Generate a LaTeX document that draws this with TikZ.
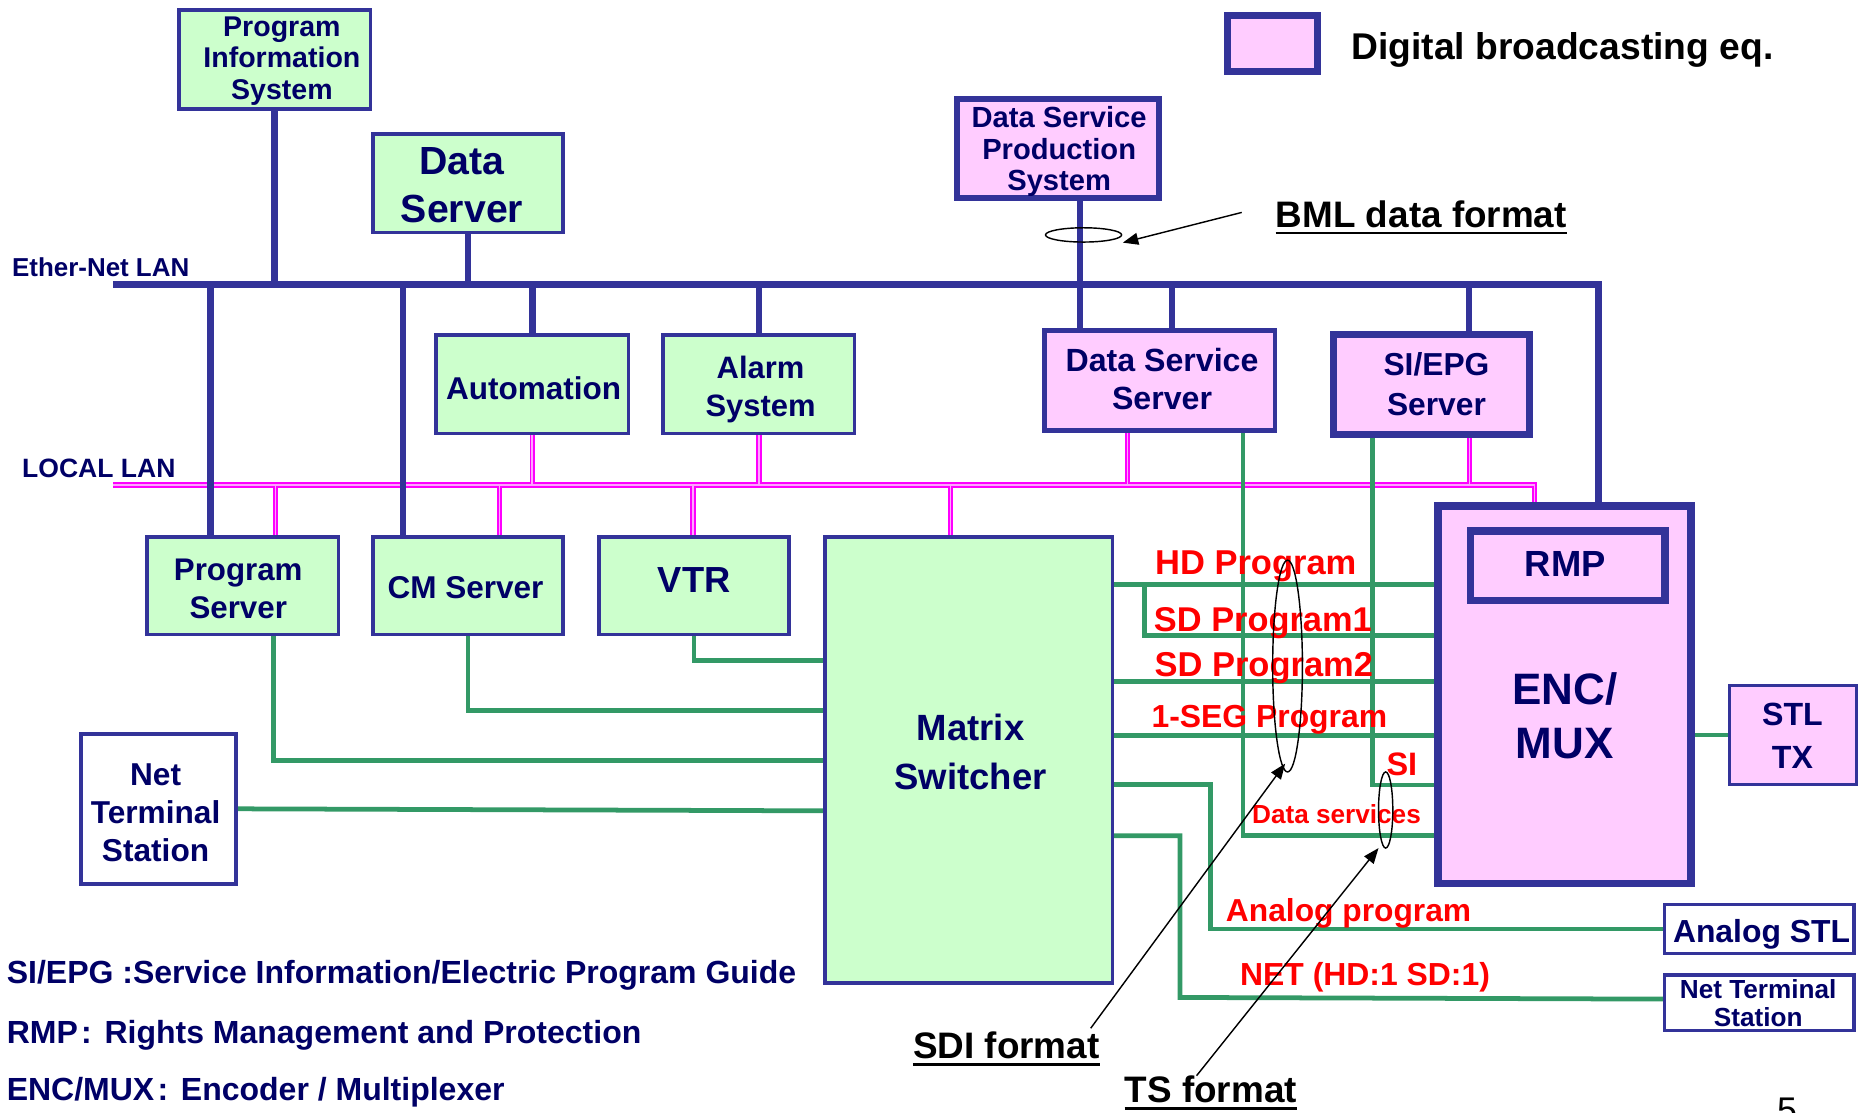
\documentclass[tikz,border=0pt]{standalone}
\usepackage{fontspec}
\setmainfont{Liberation Sans}
\usetikzlibrary{arrows.meta,shapes.geometric}
\definecolor{bordc}{RGB}{51,51,153}
\definecolor{navyt}{RGB}{0,0,102}
\definecolor{gfill}{RGB}{204,255,204}
\definecolor{pfill}{RGB}{255,204,255}
\definecolor{glin}{RGB}{51,153,102}
\definecolor{magl}{RGB}{255,0,255}
\newcommand\myfs[2]{\fontsize{#1}{#2}\selectfont\bfseries}
\newcommand\mystrut{\rule[-0.22em]{0pt}{1.04em}}
\pgfdeclarelayer{bg}
\pgfsetlayers{bg,main}
\begin{document}
\begin{tikzpicture}[x=1pt,y=-1pt,
  box/.style={draw=bordc, inner sep=0pt, outer sep=0pt},
  gbox/.style={box, fill=gfill, line width=3pt},
  pbox/.style={box, fill=pfill},
  wbox/.style={box, fill=white, line width=3pt},
  btxt/.style={text=navyt, align=center, inner sep=0pt},
  nlab/.style={text=navyt, anchor=base west, inner sep=0pt},
  klab/.style={text=black, anchor=base west, inner sep=0pt},
  rlab/.style={text=red, anchor=base west, inner sep=0pt},
  eth/.style={draw=bordc, line width=5.5pt},
  grn/.style={draw=glin, line width=4pt},
  arr/.style={draw=black, line width=1.2pt, -{Triangle[length=13pt,width=10pt]}},
  ell/.style={ellipse, draw=black, line width=1.2pt, inner sep=0pt},
  uline/.style={draw=black, line width=2pt},
]
\useasboundingbox (0,0) rectangle (1568,935);

% ---------- boxes ----------
\node[gbox, minimum width=161pt, minimum height=83pt] (pis) at (231,50) {};
\node[gbox, minimum width=160pt, minimum height=83pt] (dsrv) at (393.5,154) {};
\node[pbox, line width=5pt, minimum width=170pt, minimum height=83pt] (dsps) at (889.5,125) {};
\node[gbox, minimum width=162pt, minimum height=83pt] (auto) at (447.5,323) {};
\node[gbox, minimum width=161pt, minimum height=83pt] (alarm) at (638,323) {};
\node[pbox, line width=4pt, minimum width=194pt, minimum height=84pt] (dss) at (975,320) {};
\node[pbox, line width=6pt, minimum width=165pt, minimum height=84pt] (siepg) at (1203.5,323) {};
\node[gbox, minimum width=161pt, minimum height=82pt] (psrv) at (204,492.5) {};
\node[gbox, minimum width=160pt, minimum height=82pt] (cm) at (393.5,492.5) {};
\node[gbox, minimum width=160pt, minimum height=82pt] (vtr) at (583.5,492.5) {};
\node[gbox, minimum width=242pt, minimum height=375pt] (matrix) at (814.5,639) {};
\node[pbox, line width=6.5pt, minimum width=212.5pt, minimum height=317.5pt] (enc) at (1315.5,584) {};
\node[pbox, line width=6.5pt, minimum width=163.5pt, minimum height=58.5pt] (rmp) at (1318,475.5) {};
\node[pbox, line width=3pt, minimum width=107pt, minimum height=83pt] (stl) at (1507.5,618) {};
\node[wbox, minimum width=130pt, minimum height=126pt] (ntsl) at (133.2,680) {};
\node[wbox, minimum width=159pt, minimum height=41pt] (astl) at (1479,781) {};
\node[wbox, minimum width=159pt, minimum height=47pt] (ntsr) at (1479,843) {};
\node[pbox, line width=6pt, minimum width=76pt, minimum height=47pt] (legbox) at (1070,36.7) {};

% ---------- named points ----------
\coordinate (ethL) at (95,239);
\coordinate (ethR) at (1344,239);
\coordinate (lanL) at (95,407.8);
\coordinate (lanR) at (1290,407.8);
\coordinate (e177) at (177,239);
\coordinate (e339) at (339,239);
\coordinate (e908) at (908,239);
\coordinate (e986) at (985.5,239);
\coordinate (e1235) at (1235,239);
\coordinate (l231) at (231.6,407.8);
\coordinate (l420) at (420,407.8);
\coordinate (l582) at (582.5,407.8);
\coordinate (l799) at (799,407.8);
\coordinate (l948) at (948,407.8);
\coordinate (l1235) at (1235.5,407.8);
\coordinate (gV) at (0,555.3);
\coordinate (gC) at (0,597.5);
\coordinate (gP) at (0,639.4);
\coordinate (gN) at (0,681.7);
\coordinate (gpx) at (230.2,0);
\coordinate (yHD) at (0,491.5);
\coordinate (ySD1) at (0,534);
\coordinate (xSD1) at (962,0);
\coordinate (ySD2) at (0,573);
\coordinate (ySEG) at (0,618.5);
\coordinate (xSI) at (1154,0);
\coordinate (ySI) at (0,660);
\coordinate (xDS) at (1045,0);
\coordinate (yDS) at (0,702.6);
\coordinate (yAn) at (0,659.7);
\coordinate (xAn) at (1017.5,0);
\coordinate (yNt) at (0,702.6);
\coordinate (xNt) at (992,0);
\coordinate (yNt2) at (0,838.6);
\coordinate (yNe) at (0,840);
\coordinate (ySTL) at (0,618);

% ---------- connectors ----------
\begin{pgfonlayer}{bg}
% local LAN (double magenta)
\draw[draw=magl!35, line width=1.4pt, preaction={draw=magl, line width=4.6pt}]
  (lanL) -- (lanR) -- (enc.north -| lanR)
  (auto.south) -- (auto.south |- lanL)
  (alarm.south) -- (alarm.south |- lanL)
  (dss.south -| l948) -- (l948)
  (siepg.south -| l1235) -- (l1235)
  (l231) -- (psrv.north -| l231)
  (l420) -- (cm.north -| l420)
  (l582) -- (vtr.north -| l582)
  (l799) -- (matrix.north -| l799);
% green video / TS lines
\draw[grn] (vtr.south) -- (vtr.south |- gV) -- (matrix.west |- gV);
\draw[grn] (cm.south) -- (cm.south |- gC) -- (matrix.west |- gC);
\draw[grn] (psrv.south -| gpx) -- (gpx |- gP) -- (matrix.west |- gP);
\draw[grn] (ntsl.east) -- (matrix.west |- gN);
\draw[grn] (matrix.east |- yHD) -- (enc.west |- yHD);
\draw[grn] (xSD1 |- yHD) -- (xSD1 |- ySD1) -- (enc.west |- ySD1);
\draw[grn] (matrix.east |- ySD2) -- (enc.west |- ySD2);
\draw[grn] (matrix.east |- ySEG) -- (enc.west |- ySEG);
\draw[grn] (siepg.south -| xSI) -- (xSI |- ySI) -- (enc.west |- ySI);
\draw[grn] (dss.south -| xDS) -- (xDS |- yDS) -- (enc.west |- yDS);
\draw[grn] (matrix.east |- yAn) -- (xAn |- yAn) -- (xAn |- astl.west) -- (astl.west);
\draw[grn] (matrix.east |- yNt) -- (xNt |- yNt) -- (xNt |- yNt2) -- (ntsr.west |- yNe);
\draw[grn] (enc.east |- ySTL) -- (stl.west |- ySTL);
% Ethernet LAN
\draw[eth] (ethL) -- (ethR) -- (enc.north -| ethR);
\draw[eth] (pis.south) -- (pis.south |- ethL);
\draw[eth] (dsrv.south) -- (dsrv.south |- ethL);
\draw[eth] (e177) -- (psrv.north -| e177);
\draw[eth] (e339) -- (cm.north -| e339);
\draw[eth] (ethL -| auto.north) -- (auto.north);
\draw[eth] (ethL -| alarm.north) -- (alarm.north);
\draw[eth] (dsps.south -| e908) -- (dss.north -| e908);
\draw[eth] (e986) -- (dss.north -| e986);
\draw[eth] (e1235) -- (siepg.north -| e1235);
\end{pgfonlayer}

% ---------- box texts ----------
\node[btxt, font=\myfs{24}{26.5}] (pisT) at (237,49.6) {\mystrut Program\\\mystrut Information\\\mystrut System};
\node[btxt, font=\myfs{33}{40}] (dsrvT) at (388.5,157.1) {\mystrut Data\\\mystrut Server};
\node[btxt, font=\myfs{24.5}{26.7}] (dspsT) at (890.5,126.4) {\mystrut Data Service\\\mystrut Production\\\mystrut System};
\node[btxt, font=\myfs{26.5}{31}] (autoT) at (448.6,327.8) {\mystrut Automation};
\node[btxt, font=\myfs{26}{31.8}] (alarmT) at (639.4,326.1) {\mystrut Alarm\\\mystrut System};
\node[btxt, font=\myfs{27}{32.2}] (dssT) at (977,320.5) {\mystrut Data Service\\\mystrut Server};
\node[btxt, font=\myfs{26.7}{33}] (siepgT) at (1207.7,324.5) {\mystrut SI/EPG\\\mystrut Server};
\node[btxt, font=\myfs{26.3}{31.6}] (psrvT) at (200.3,495.9) {\mystrut Program\\\mystrut Server};
\node[btxt, font=\myfs{26.5}{31}] (cmT) at (391.4,495) {\mystrut CM Server};
\node[btxt, font=\myfs{30.5}{35}] (vtrT) at (583.7,489) {\mystrut VTR};
\node[btxt, font=\myfs{30.7}{41.4}] (matT) at (816,633.9) {\mystrut Matrix\\\mystrut Switcher};
\node[btxt, font=\myfs{37}{45.8}] (encT) at (1315.6,604) {\mystrut ENC/\\\mystrut MUX};
\node[btxt, font=\myfs{30.6}{35}] (rmpT) at (1316,475.6) {\mystrut RMP};
\node[btxt, font=\myfs{27}{36.4}] (stlT) at (1507,620) {\mystrut STL\\\mystrut TX};
\node[btxt, font=\myfs{26.6}{32}] (ntslT) at (130.8,684.4) {\mystrut Net\\\mystrut Terminal\\\mystrut Station};
\node[btxt, font=\myfs{26.8}{31}] (astlT) at (1481,784) {\mystrut Analog STL};
\node[btxt, font=\myfs{22}{23.7}] (ntsrT) at (1478.2,844.5) {\mystrut Net Terminal\\\mystrut Station};

% ---------- labels ----------
\node[nlab, font=\myfs{21.8}{25}] (ethT) at (10,232.6) {Ether-Net LAN};
\node[nlab, font=\myfs{22.3}{25}] (lanT) at (18.5,401.3) {LOCAL LAN};
\node[klab, font=\myfs{31.3}{36}] (legT) at (1136,50.4) {Digital broadcasting eq.};
\node[klab, font=\myfs{31}{36}] (bmlT) at (1072.5,191.4) {BML data format};
\node[rlab, font=\myfs{29}{33}] (hdT) at (971,483.4) {HD Program};
\node[rlab, font=\myfs{28.9}{33}] (sd1T) at (970,531) {SD Program1};
\node[rlab, font=\myfs{29}{33}] (sd2T) at (970.5,569) {SD Program2};
\node[rlab, font=\myfs{26.8}{31}] (segT) at (968,611.8) {1-SEG Program};
\node[rlab, font=\myfs{27.3}{31}] (siT) at (1165.5,652.4) {SI};
\node[rlab, font=\myfs{22}{26}] (dsT) at (1052.5,692.2) {Data services};
\node[rlab, font=\myfs{26.7}{31}] (anT) at (1030.5,775) {Analog program};
\node[rlab, font=\myfs{26.8}{30}] (netT) at (1042.5,828.3) {NET (HD:1 SD:1)};
\node[klab, font=\myfs{31}{36}] (sdiT) at (767.5,890.2) {SDI format};
\node[klab, font=\myfs{31}{36}] (tsT) at (945.5,927.2) {TS format};
\node[nlab, font=\myfs{26.9}{31}] (def1) at (5.5,827) {SI/EPG :Service Information/Electric Program Guide};
\node[nlab, font=\myfs{26.9}{31}] (def2) at (5.5,877) {RMP\hspace{0.1em}:\hspace{0.4em}Rights Management and Protection};
\node[nlab, font=\myfs{26.9}{31}] (def3) at (5.5,925.2) {ENC/MUX\hspace{0.1em}:\hspace{0.4em}Encoder / Multiplexer};
\node[klab, font=\fontsize{30}{34}\selectfont] (pgno) at (1494,943.5) {5};

% underlines
\draw[uline] ([yshift=-4.5pt]bmlT.base west) -- ([yshift=-4.5pt]bmlT.base east);
\draw[uline] ([yshift=-4.8pt]sdiT.base west) -- ([yshift=-4.8pt]sdiT.base east);
\draw[uline] ([yshift=-4.8pt]tsT.base west) -- ([yshift=-4.8pt]tsT.base east);

% ---------- annotation ellipses and arrows ----------
\node[ell, minimum width=25pt, minimum height=178pt] (ellA) at (1082.5,560) {};
\node[ell, minimum width=12pt, minimum height=64pt] (ellB) at (1165,681) {};
\node[ell, minimum width=64pt, minimum height=12pt] (ellC) at (911,197.5) {};
\coordinate (sdiTail) at (917,864.5);
\coordinate (sdiTip) at (1080.5,642);
\coordinate (tsTail) at (1006,904.4);
\coordinate (tsTip) at (1159,713);
\coordinate (bmlTail) at (1044,178.6);
\coordinate (bmlTip) at (944,204);
\draw[arr] (sdiTail) -- (sdiTip);
\draw[arr] (tsTail) -- (tsTip);
\draw[arr] (bmlTail) -- (bmlTip);
\end{tikzpicture}
\end{document}
